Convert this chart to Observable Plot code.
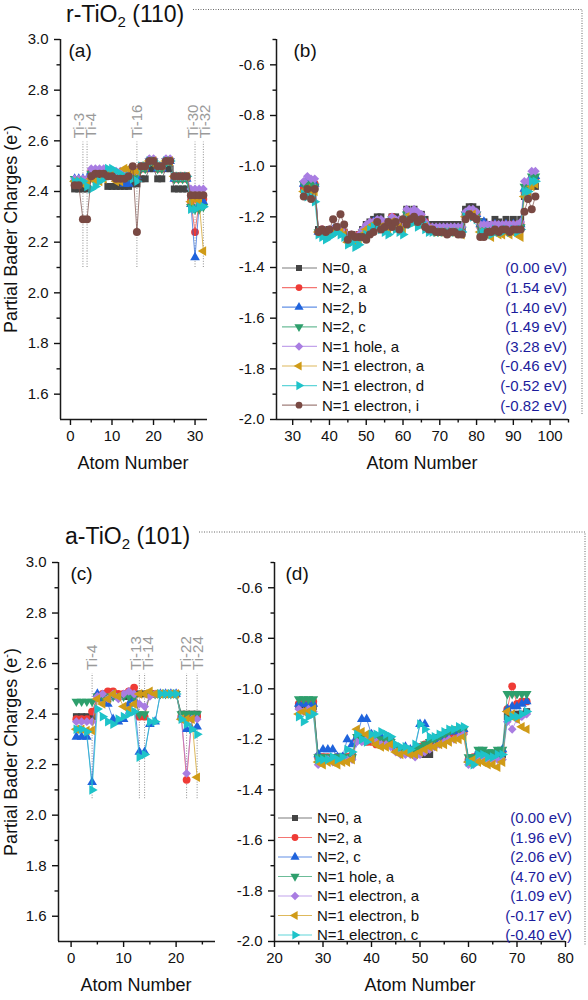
<!DOCTYPE html>
<html><head><meta charset="utf-8">
<script src="https://cdn.jsdelivr.net/npm/d3@7"></script>
<script src="https://cdn.jsdelivr.net/npm/@observablehq/plot@0.6"></script>
<style>
body{margin:0;background:#fff;}
#wrap{position:relative;width:588px;height:1000px;overflow:hidden;background:#fff;font-family:"Liberation Sans",Arial,sans-serif;}
#wrap svg{position:absolute;}
</style></head><body><div id="wrap"></div>
<script>
// ---------------- DATA ----------------
// Panel (a): r-TiO2 (110), Ti atoms 1..32
const atomsA = d3.range(1, 33);
const aN0  = [2.41,2.41,2.41,2.41, 2.46,2.46,2.46,2.46, 2.42,2.42,2.42,2.42, 2.42,2.42,2.43,2.43, 2.45,2.45,2.49,2.49, 2.45,2.45,2.49,2.49, 2.41,2.41,2.41,2.41, 2.38,2.38,2.38,2.38];
const aN2a = [2.44,2.44,2.44,2.44, 2.48,2.48,2.48,2.48, 2.47,2.47,2.46,2.46, 2.46,2.46,2.47,2.47, 2.49,2.49,2.52,2.52, 2.49,2.49,2.52,2.52, 2.45,2.45,2.45,2.45, 2.36,2.24,2.36,2.37];
const aN2b = [2.45,2.45,2.45,2.45, 2.48,2.48,2.48,2.47, 2.46,2.46,2.45,2.44, 2.43,2.43,2.45,2.46, 2.49,2.49,2.52,2.52, 2.49,2.49,2.52,2.52, 2.45,2.45,2.45,2.45, 2.35,2.14,2.35,2.36];
const aN2c = [2.45,2.45,2.45,2.44, 2.47,2.47,2.48,2.48, 2.47,2.47,2.46,2.46, 2.46,2.46,2.46,2.47, 2.49,2.49,2.52,2.52, 2.49,2.49,2.52,2.52, 2.45,2.45,2.45,2.45, 2.34,2.33,2.33,2.34];
const aH1  = [2.45,2.45,2.45,2.45, 2.49,2.49,2.49,2.49, 2.48,2.48,2.48,2.48, 2.47,2.47,2.48,2.48, 2.50,2.50,2.53,2.53, 2.50,2.50,2.53,2.53, 2.46,2.46,2.46,2.46, 2.41,2.41,2.41,2.41];
const aE1a = [2.44,2.44,2.43,2.43, 2.45,2.44,2.44,2.45, 2.47,2.47,2.44,2.44, 2.49,2.49,2.48,2.48, 2.50,2.50,2.52,2.52, 2.50,2.50,2.52,2.52, 2.46,2.46,2.46,2.46, 2.36,2.37,2.36,2.165];
const aE1d = [2.44,2.44,2.44,2.42, 2.41,2.42,2.44,2.45, 2.49,2.49,2.48,2.47, 2.46,2.46,2.45,2.44, 2.50,2.50,2.52,2.52, 2.50,2.50,2.52,2.52, 2.46,2.46,2.46,2.46, 2.33,2.33,2.34,2.34];
const aE1i = [2.425,2.425,2.29,2.29, 2.46,2.47,2.47,2.47, 2.46,2.46,2.45,2.45, 2.45,2.46,2.50,2.24, 2.50,2.50,2.52,2.52, 2.50,2.50,2.52,2.52, 2.46,2.46,2.46,2.46, 2.385,2.385,2.385,2.385];
const tiA = [3, 4, 16, 30, 32];

// Panel (b): r-TiO2 (110), O atoms 33..96
const atomsB = d3.range(33, 97);
const bN0 = [-1.09,-1.07,-1.07,-1.08, -1.25,-1.25,-1.26,-1.25, -1.25,-1.24,-1.25,-1.26, -1.28,-1.27,-1.28,-1.27,
             -1.25,-1.23,-1.22,-1.21, -1.20,-1.20,-1.22,-1.23, -1.20,-1.20,-1.21,-1.22, -1.17,-1.19,-1.17,-1.19,
             -1.19,-1.21,-1.23,-1.23, -1.23,-1.23,-1.23,-1.23, -1.23,-1.23,-1.23,-1.24, -1.17,-1.16,-1.16,-1.17,
             -1.22,-1.22,-1.23,-1.24, -1.21,-1.22,-1.24,-1.21, -1.24,-1.21,-1.23,-1.21, -1.12,-1.12,-1.08,-1.08];
const bN2a = [-1.08,-1.06,-1.06,-1.07, -1.26,-1.25,-1.26,-1.26, -1.25,-1.25,-1.26,-1.26, -1.28,-1.28,-1.28,-1.27,
              -1.26,-1.24,-1.23,-1.22, -1.22,-1.22,-1.23,-1.24, -1.20,-1.23,-1.22,-1.23, -1.19,-1.20,-1.19,-1.21,
              -1.20,-1.22,-1.24,-1.25, -1.25,-1.25,-1.25,-1.25, -1.25,-1.25,-1.25,-1.25, -1.19,-1.18,-1.18,-1.19,
              -1.24,-1.24,-1.24,-1.25, -1.23,-1.24,-1.25,-1.23, -1.25,-1.23,-1.24,-1.23, -1.10,-1.09,-1.05,-1.05];
const bN2b = [-1.07,-1.05,-1.06,-1.07, -1.26,-1.26,-1.26,-1.26, -1.25,-1.25,-1.26,-1.27, -1.29,-1.28,-1.29,-1.28,
              -1.26,-1.24,-1.23,-1.22, -1.22,-1.22,-1.23,-1.24, -1.21,-1.23,-1.22,-1.23, -1.19,-1.20,-1.19,-1.21,
              -1.20,-1.22,-1.24,-1.25, -1.25,-1.25,-1.25,-1.25, -1.25,-1.25,-1.25,-1.25, -1.19,-1.18,-1.18,-1.19,
              -1.23,-1.22,-1.24,-1.25, -1.23,-1.24,-1.25,-1.23, -1.25,-1.23,-1.24,-1.23, -1.09,-1.08,-1.04,-1.04];
const bN2c = [-1.07,-1.07,-1.07,-1.08, -1.26,-1.26,-1.27,-1.26, -1.25,-1.25,-1.26,-1.27, -1.29,-1.28,-1.29,-1.28,
              -1.26,-1.25,-1.24,-1.23, -1.22,-1.23,-1.24,-1.24, -1.21,-1.23,-1.23,-1.23, -1.19,-1.20,-1.19,-1.21,
              -1.21,-1.23,-1.24,-1.25, -1.25,-1.25,-1.25,-1.25, -1.25,-1.25,-1.25,-1.25, -1.19,-1.18,-1.18,-1.19,
              -1.24,-1.24,-1.24,-1.25, -1.24,-1.24,-1.25,-1.24, -1.25,-1.24,-1.24,-1.24, -1.08,-1.08,-1.04,-1.04];
const bH1  = [-1.06,-1.04,-1.05,-1.05, -1.26,-1.25,-1.26,-1.25, -1.25,-1.24,-1.25,-1.26, -1.28,-1.27,-1.28,-1.27,
              -1.25,-1.23,-1.22,-1.22, -1.21,-1.21,-1.22,-1.23, -1.20,-1.21,-1.21,-1.22, -1.17,-1.18,-1.17,-1.18,
              -1.19,-1.22,-1.24,-1.24, -1.24,-1.24,-1.24,-1.24, -1.24,-1.24,-1.24,-1.24, -1.18,-1.17,-1.17,-1.18,
              -1.23,-1.23,-1.23,-1.23, -1.23,-1.23,-1.23,-1.23, -1.23,-1.23,-1.23,-1.22, -1.06,-1.06,-1.02,-1.02];
const bE1a = [-1.10,-1.09,-1.10,-1.10, -1.26,-1.27,-1.27,-1.26, -1.26,-1.25,-1.26,-1.27, -1.30,-1.29,-1.30,-1.29,
              -1.27,-1.25,-1.24,-1.23, -1.23,-1.24,-1.25,-1.26, -1.22,-1.24,-1.24,-1.25, -1.20,-1.22,-1.21,-1.23,
              -1.22,-1.24,-1.25,-1.26, -1.26,-1.26,-1.26,-1.26, -1.26,-1.26,-1.26,-1.27, -1.20,-1.19,-1.19,-1.21,
              -1.26,-1.27,-1.27,-1.28, -1.26,-1.27,-1.27,-1.26, -1.27,-1.26,-1.27,-1.28, -1.12,-1.10,-1.08,-1.07];
const bE1d = [-1.11,-1.12,-1.12,-1.14, -1.27,-1.28,-1.29,-1.28, -1.27,-1.26,-1.27,-1.28, -1.31,-1.30,-1.32,-1.31,
              -1.28,-1.27,-1.25,-1.24, -1.24,-1.25,-1.26,-1.27, -1.23,-1.25,-1.26,-1.27, -1.21,-1.23,-1.22,-1.24,
              -1.22,-1.25,-1.26,-1.26, -1.26,-1.26,-1.26,-1.26, -1.26,-1.26,-1.26,-1.26, -1.20,-1.19,-1.20,-1.21,
              -1.26,-1.26,-1.26,-1.27, -1.25,-1.26,-1.26,-1.25, -1.26,-1.25,-1.26,-1.25, -1.10,-1.10,-1.06,-1.06];
const bE1i = [-1.12,-1.09,-1.13,-1.09, -1.26,-1.25,-1.26,-1.25, -1.21,-1.24,-1.19,-1.23, -1.29,-1.27,-1.28,-1.28,
              -1.28,-1.29,-1.27,-1.26, -1.22,-1.25,-1.24,-1.22, -1.24,-1.22,-1.25,-1.21, -1.23,-1.21,-1.20,-1.22,
              -1.21,-1.24,-1.25,-1.25, -1.26,-1.26,-1.26,-1.27, -1.26,-1.26,-1.27,-1.27, -1.21,-1.19,-1.20,-1.21,
              -1.28,-1.28,-1.26,-1.26, -1.25,-1.26,-1.25,-1.25, -1.26,-1.25,-1.25,-1.25, -1.18,-1.13,-1.17,-1.12];

// Panel (c): a-TiO2 (101), Ti atoms 1..24
const atomsC = d3.range(1, 25);
const cN0  = [2.39,2.39,2.39,2.39, 2.47,2.47,2.46,2.47, 2.47,2.47,2.47,2.48, 2.48,2.48,2.48,2.48, 2.48,2.48,2.48,2.48, 2.40,2.40,2.40,2.40];
const cN2a = [2.38,2.38,2.38,2.41, 2.47,2.48,2.49,2.49, 2.48,2.48,2.49,2.505, 2.39,2.39,2.48,2.48, 2.48,2.48,2.48,2.48, 2.39,2.14,2.39,2.39];
const cN2c = [2.31,2.31,2.31,2.13, 2.48,2.46,2.44,2.38, 2.37,2.38,2.44,2.46, 2.25,2.25,2.36,2.37, 2.48,2.48,2.48,2.48, 2.39,2.34,2.34,2.35];
const cH1  = [2.45,2.45,2.45,2.45, 2.47,2.47,2.47,2.47, 2.47,2.47,2.47,2.47, 2.40,2.40,2.48,2.48, 2.48,2.48,2.48,2.48, 2.40,2.40,2.40,2.40];
const cE1a = [2.37,2.37,2.37,2.37, 2.47,2.48,2.46,2.48, 2.46,2.48,2.49,2.48, 2.44,2.43,2.47,2.48, 2.48,2.48,2.48,2.48, 2.38,2.165,2.38,2.38];
const cE1b = [2.34,2.34,2.335,2.335, 2.46,2.44,2.46,2.48, 2.47,2.43,2.42,2.44, 2.48,2.48,2.49,2.48, 2.48,2.48,2.48,2.48, 2.38,2.38,2.38,2.15];
const cE1c = [2.34,2.34,2.33,2.10, 2.42,2.39,2.37,2.36, 2.38,2.39,2.40,2.41, 2.23,2.24,2.37,2.37, 2.48,2.48,2.48,2.48, 2.38,2.36,2.34,2.32];
const tiC = [4, 13, 14, 22, 24];

// Panel (d): a-TiO2 (101), O atoms 25..72
const atomsD = d3.range(25, 73);
const dN0  = [-1.07,-1.07,-1.07,-1.07, -1.27,-1.27,-1.28,-1.28,-1.27,-1.27,-1.27,-1.27, -1.20,-1.19,-1.19,-1.20,-1.20,-1.21,-1.20,-1.20,
              -1.24,-1.25,-1.24,-1.25,-1.25,-1.25,-1.26,-1.26, -1.21,-1.20,-1.19,-1.18,-1.18,-1.17,-1.17, -1.28,-1.28,
              -1.26,-1.26,-1.27,-1.27,-1.26,-1.26, -1.11,-1.11,-1.10,-1.10,-1.09];
const dN2a = [-1.06,-1.05,-1.06,-1.05, -1.27,-1.27,-1.27,-1.28,-1.27,-1.27,-1.27,-1.26, -1.20,-1.20,-1.21,-1.21,-1.22,-1.21,-1.20,-1.21,
              -1.24,-1.25,-1.24,-1.25,-1.24,-1.23,-1.22,-1.23, -1.20,-1.19,-1.19,-1.18,-1.18,-1.17,-1.17, -1.28,-1.27,
              -1.26,-1.25,-1.26,-1.26,-1.25,-1.25, -1.08,-0.99,-1.06,-1.05,-1.05];
const dN2c = [-1.06,-1.06,-1.06,-1.06, -1.26,-1.24,-1.24,-1.24,-1.27,-1.27,-1.20,-1.22, -1.19,-1.12,-1.12,-1.18,-1.19,-1.19,-1.19,-1.20,
              -1.23,-1.24,-1.23,-1.24,-1.23,-1.14,-1.14,-1.20, -1.20,-1.19,-1.18,-1.17,-1.17,-1.16,-1.16, -1.28,-1.28,
              -1.25,-1.25,-1.26,-1.26,-1.25,-1.24, -1.08,-1.07,-1.07,-1.06,-1.05];
const dH1  = [-1.04,-1.04,-1.04,-1.04, -1.27,-1.27,-1.27,-1.27,-1.27,-1.27,-1.27,-1.27, -1.19,-1.19,-1.19,-1.19,-1.20,-1.20,-1.20,-1.21,
              -1.23,-1.24,-1.24,-1.24,-1.24,-1.23,-1.22,-1.21, -1.20,-1.19,-1.18,-1.17,-1.16,-1.16,-1.16, -1.27,-1.27,
              -1.24,-1.24,-1.25,-1.25,-1.24,-1.24, -1.02,-1.02,-1.02,-1.02,-1.02];
const dE1a = [-1.08,-1.09,-1.08,-1.09, -1.30,-1.29,-1.28,-1.29,-1.29,-1.28,-1.28,-1.28, -1.21,-1.21,-1.20,-1.20,-1.21,-1.22,-1.22,-1.23,
              -1.25,-1.26,-1.26,-1.26,-1.27,-1.26,-1.25,-1.24, -1.23,-1.22,-1.21,-1.20,-1.20,-1.19,-1.18, -1.30,-1.30,
              -1.27,-1.27,-1.28,-1.28,-1.28,-1.28, -1.13,-1.16,-1.12,-1.11,-1.10];
const dE1b = [-1.10,-1.09,-1.09,-1.08, -1.29,-1.30,-1.29,-1.29,-1.30,-1.29,-1.29,-1.28, -1.16,-1.17,-1.18,-1.20,-1.22,-1.23,-1.23,-1.22,
              -1.25,-1.26,-1.25,-1.26,-1.26,-1.25,-1.24,-1.23, -1.23,-1.22,-1.22,-1.21,-1.20,-1.20,-1.19, -1.29,-1.28,
              -1.29,-1.29,-1.30,-1.30,-1.31,-1.29, -1.09,-1.10,-1.12,-1.15,-1.16];
const dE1c = [-1.11,-1.13,-1.11,-1.10, -1.28,-1.28,-1.28,-1.27,-1.28,-1.27,-1.24,-1.25, -1.18,-1.20,-1.21,-1.18,-1.18,-1.17,-1.18,-1.19,
              -1.22,-1.23,-1.23,-1.24,-1.22,-1.14,-1.16,-1.19, -1.19,-1.18,-1.17,-1.16,-1.16,-1.15,-1.15, -1.29,-1.30,
              -1.26,-1.26,-1.27,-1.27,-1.26,-1.26, -1.12,-1.11,-1.11,-1.10,-1.09];

// Legends
const topLabels = ["N=0, a","N=2, a","N=2, b","N=2, c","N=1 hole, a","N=1 electron, a","N=1 electron, d","N=1 electron, i"];
const topEnergies = ["(0.00 eV)","(1.54 eV)","(1.40 eV)","(1.49 eV)","(3.28 eV)","(-0.46 eV)","(-0.52 eV)","(-0.82 eV)"];
const botLabels = ["N=0, a","N=2, a","N=2, c","N=1 hole, a","N=1 electron, a","N=1 electron, b","N=1 electron, c"];
const botEnergies = ["(0.00 eV)","(1.96 eV)","(2.06 eV)","(4.70 eV)","(1.09 eV)","(-0.17 eV)","(-0.40 eV)"];

// Axis ticks
const yTicksTi = [1.6,1.8,2.0,2.2,2.4,2.6,2.8,3.0];
const yMinorTi = [1.7,1.9,2.1,2.3,2.5,2.7,2.9];
const yTicksO = [-2.0,-1.8,-1.6,-1.4,-1.2,-1.0,-0.8,-0.6];
const yMinorO = [-1.9,-1.7,-1.5,-1.3,-1.1,-0.9,-0.7,-0.5];

// ---------------- STYLES ----------------
const FONT = '"Liberation Sans", Arial, sans-serif';
const S = {
  sq:   {color:"#444444", symbol:"square",   rotate:0,   r:3.9},
  red:  {color:"#ef3b36", symbol:"circle",   rotate:0,   r:3.9},
  blue: {color:"#1f63dc", symbol:"triangle", rotate:0,   r:3.6},
  grn:  {color:"#2e9f6c", symbol:"triangle", rotate:180, r:3.6},
  pur:  {color:"#a97de2", symbol:"square",   rotate:45,  r:3.5},
  org:  {color:"#d09b17", symbol:"triangle", rotate:-90, r:3.6},
  cyn:  {color:"#1ec3c9", symbol:"triangle", rotate:90,  r:3.6},
  brn:  {color:"#794943", symbol:"circle",   rotate:0,   r:4.0}
};
const topStyles = [S.sq,S.red,S.blue,S.grn,S.pur,S.org,S.cyn,S.brn];
const botStyles = [S.sq,S.red,S.blue,S.grn,S.pur,S.org,S.cyn];

const wrap = document.getElementById("wrap");

function makePanel(cfg) {
  const marks = [];
  if (cfg.ti) {
    const pxPerUnit = (cfg.width - cfg.ml - cfg.mr) / (cfg.xDomain[1] - cfg.xDomain[0]);
    const minSep = 12; // label glyph height in px
    marks.push(Plot.ruleX(cfg.ti, {x: d => d, y1: cfg.tiLow, y2: cfg.tiHigh, stroke: "#8c8c8c", strokeWidth: 1, strokeDasharray: "1,1.6"}));
    cfg.ti.forEach((t, i) => {
      const gPrev = i > 0 ? (t - cfg.ti[i - 1]) * pxPerUnit : Infinity;
      const gNext = i < cfg.ti.length - 1 ? (cfg.ti[i + 1] - t) * pxPerUnit : Infinity;
      let dx = 0;
      if (gNext < minSep) dx -= (minSep - gNext) / 2;
      if (gPrev < minSep) dx += (minSep - gPrev) / 2;
      marks.push(Plot.text([t], {x: d => d, y: cfg.tiHigh + 0.015, text: d => "Ti-" + d, rotate: -90, textAnchor: "start", dx, fill: "#9a9a9a", fontSize: 15}));
    });
  }
  cfg.series.forEach((vals, i) => {
    const st = cfg.styles[i];
    const rows = vals.map((v, j) => ({atom: cfg.atoms[j], v}));
    marks.push(Plot.line(rows, {x: "atom", y: "v", stroke: st.color, strokeWidth: 1, strokeOpacity: 0.7}));
    marks.push(Plot.dot(rows, {x: "atom", y: "v", symbol: st.symbol, rotate: st.rotate, r: st.r, fill: st.color}));
  });
  marks.push(Plot.ruleX([cfg.xDomain[0]], {stroke: "#1a1a1a", strokeWidth: 1.5}));
  marks.push(Plot.ruleY([cfg.yDomain[0]], {stroke: "#1a1a1a", strokeWidth: 1.5}));
  marks.push(Plot.axisY({ticks: cfg.yMajor, tickSize: 6, tickPadding: 6, tickFormat: d => d.toFixed(1), label: null, fontSize: 15, strokeWidth: 1.4}));
  marks.push(Plot.axisY({ticks: cfg.yMinor, tickSize: 3.5, tickFormat: () => "", label: null, strokeWidth: 1.4}));
  marks.push(Plot.axisX({ticks: cfg.xMajor, tickSize: 6, tickPadding: 5, tickFormat: d => String(d), label: null, fontSize: 15, strokeWidth: 1.4}));
  marks.push(Plot.axisX({ticks: cfg.xMinor, tickSize: 3.5, tickFormat: () => "", label: null, strokeWidth: 1.4}));
  marks.push(Plot.text([cfg.letter], {frameAnchor: "top-left", dx: cfg.letterDx, dy: 11, lineAnchor: "middle", fontSize: 19, fill: "#111"}));
  const svg = Plot.plot({
    width: cfg.width, height: cfg.height,
    marginLeft: cfg.ml, marginRight: cfg.mr, marginTop: cfg.mt, marginBottom: cfg.mb,
    x: {domain: cfg.xDomain}, y: {domain: cfg.yDomain},
    style: {fontFamily: FONT, background: "transparent", overflow: "visible", color: "#111"},
    marks
  });
  svg.style.left = cfg.left + "px";
  svg.style.top = cfg.top + "px";
  wrap.appendChild(svg);
}

makePanel({left: 0, top: 0, width: 215, height: 470, ml: 60, mr: 8, mt: 39, mb: 51,
  atoms: atomsA, series: [aN0,aN2a,aN2b,aN2c,aH1,aE1a,aE1d,aE1i], styles: topStyles,
  xDomain: [-2.4, 33], yDomain: [1.5, 3.0], xMajor: [0,10,20,30], xMinor: [5,15,25],
  yMajor: yTicksTi, yMinor: yMinorTi, letter: "(a)", letterDx: 8,
  ti: tiA, tiLow: 2.1, tiHigh: 2.595});

makePanel({left: 215, top: 0, width: 373, height: 470, ml: 61, mr: 20, mt: 39, mb: 51,
  atoms: atomsB, series: [bN0,bN2a,bN2b,bN2c,bH1,bE1a,bE1d,bE1i], styles: topStyles,
  xDomain: [25.6, 105], yDomain: [-2.0, -0.5], xMajor: [30,40,50,60,70,80,90,100], xMinor: [35,45,55,65,75,85,95,105],
  yMajor: yTicksO, yMinor: yMinorO, letter: "(b)", letterDx: 17});

makePanel({left: 0, top: 520, width: 222, height: 470, ml: 58, mr: 7, mt: 42, mb: 49,
  atoms: atomsC, series: [cN0,cN2a,cN2c,cH1,cE1a,cE1b,cE1c], styles: botStyles,
  xDomain: [-2.4, 27.5], yDomain: [1.5, 3.0], xMajor: [0,10,20], xMinor: [5,15,25],
  yMajor: yTicksTi, yMinor: yMinorTi, letter: "(c)", letterDx: 12,
  ti: tiC, tiLow: 2.065, tiHigh: 2.56});

makePanel({left: 215, top: 520, width: 373, height: 470, ml: 59, mr: 23, mt: 42, mb: 49,
  atoms: atomsD, series: [dN0,dN2a,dN2c,dH1,dE1a,dE1b,dE1c], styles: botStyles,
  xDomain: [20, 80], yDomain: [-2.0, -0.5], xMajor: [20,30,40,50,60,70,80], xMinor: [25,35,45,55,65,75],
  yMajor: yTicksO, yMinor: yMinorO, letter: "(d)", letterDx: 11});

// ---------------- OVERLAY: titles, frames, axis labels, legends ----------------
const ov = d3.select(wrap).append("svg").attr("width", 588).attr("height", 1000)
  .style("left", "0px").style("top", "0px").style("font-family", FONT).style("pointer-events", "none");

function title(x, y, pre, sub, post) {
  const t = ov.append("text").attr("x", x).attr("y", y).attr("font-size", 23).attr("fill", "#111");
  t.append("tspan").text(pre);
  t.append("tspan").attr("font-size", 15).attr("dy", 5).text(sub);
  t.append("tspan").attr("dy", -5).text(post);
}
title(66, 22, "r-TiO", "2", " (110)");
title(65, 544, "a-TiO", "2", " (101)");

function dotted(points) {
  ov.append("path").attr("d", d3.line()(points)).attr("fill", "none")
    .attr("stroke", "#6a6a6a").attr("stroke-width", 1).attr("stroke-dasharray", "1,1.5");
}
dotted([[193, 9.5], [582, 9.5], [582, 415]]);
dotted([[199, 532], [585, 532], [585, 945]]);

function ylabel(x, y) {
  const t = ov.append("text").attr("transform", `translate(${x},${y}) rotate(-90)`)
    .attr("text-anchor", "middle").attr("font-size", 18).attr("fill", "#111");
  t.append("tspan").text("Partial Bader Charges (e");
  t.append("tspan").attr("font-size", 11).attr("dy", -7).text("-");
  t.append("tspan").attr("dy", 7).text(")");
}
ylabel(17, 229);
ylabel(17, 752);

function xlabel(x, y) {
  ov.append("text").attr("x", x).attr("y", y).attr("text-anchor", "middle")
    .attr("font-size", 18).attr("fill", "#111").text("Atom Number");
}
xlabel(133, 469); xlabel(422, 469);
xlabel(136, 991); xlabel(420, 991);

const symTypes = {square: d3.symbolSquare, circle: d3.symbolCircle, triangle: d3.symbolTriangle};
function legend(labels, energies, styles, o) {
  labels.forEach((lab, i) => {
    const st = styles[i];
    const y = o.y0 + i * o.dy;
    ov.append("line").attr("x1", o.x0).attr("x2", o.x1).attr("y1", y).attr("y2", y)
      .attr("stroke", st.color).attr("stroke-width", 1.2).attr("stroke-opacity", 0.7);
    ov.append("path").attr("d", d3.symbol(symTypes[st.symbol], Math.PI * 3.4 * 3.4)())
      .attr("transform", `translate(${o.xm},${y}) rotate(${st.rotate})`).attr("fill", st.color);
    ov.append("text").attr("x", o.xt).attr("y", y).attr("dy", "0.36em").attr("font-size", 15)
      .attr("fill", "#111").text(lab);
    ov.append("text").attr("x", o.xe).attr("y", y).attr("dy", "0.36em").attr("font-size", 15)
      .attr("text-anchor", "end").attr("fill", "#1c1c9c").text(energies[i]);
  });
}
legend(topLabels, topEnergies, topStyles, {x0: 282, x1: 317, xm: 299, xt: 322, xe: 567, y0: 268, dy: 19.6});
legend(botLabels, botEnergies, botStyles, {x0: 278, x1: 312, xm: 295, xt: 317, xe: 572, y0: 818, dy: 19.5});
</script></body></html>
